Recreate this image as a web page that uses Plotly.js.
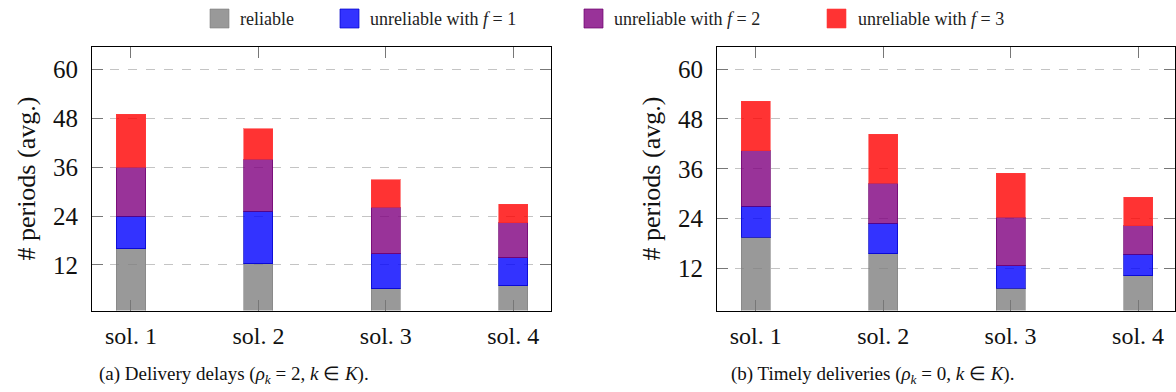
<!DOCTYPE html>
<html>
<head>
<meta charset="utf-8">
<script src="https://cdn.plot.ly/plotly-3.0.1.min.js"></script>
<style>
  html, body { margin: 0; padding: 0; background: #fff; }
  #chart { width: 1176px; height: 392px; }
</style>
</head>
<body>
<div id="chart"></div>
<script>
// ---- data ----
const solutions = ['sol. 1', 'sol. 2', 'sol. 3', 'sol. 4'];
const seriesNames = ['reliable', 'unreliable with <i>f</i> = 1', 'unreliable with <i>f</i> = 2', 'unreliable with <i>f</i> = 3'];
const yTicks = [12, 24, 36, 48, 60];

// (a) Delivery delays
const delaysReliable = [16.0, 12.3, 6.2, 6.9];
const delaysF1 = [8.0, 12.9, 8.6, 6.9];
const delaysF2 = [12.0, 12.7, 11.4, 8.6];
const delaysF3 = [13.0, 7.6, 6.7, 4.5];

// (b) Timely deliveries
const timelyReliable = [19.5, 15.6, 7.2, 10.3];
const timelyF1 = [7.5, 7.3, 5.5, 5.1];
const timelyF2 = [13.4, 9.6, 11.6, 6.9];
const timelyF3 = [11.9, 11.8, 10.6, 6.9];

const yTitle = '# periods (avg.)';
const captionA = '(a) Delivery delays (<i>ρ</i><sub><i>k</i></sub> = 2, <i>k</i> ∈ <i>K</i>).';
const captionB = '(b) Timely deliveries (<i>ρ</i><sub><i>k</i></sub> = 0, <i>k</i> ∈ <i>K</i>).';

// ---- styling ----
const fills = ['rgba(128,128,128,0.8)', 'rgba(0,0,255,0.8)', 'rgba(128,0,128,0.8)', 'rgba(255,0,0,0.8)'];
const edges = ['rgba(128,128,128,0.6)', 'rgba(0,0,200,0.7)', 'rgba(110,0,110,0.7)', 'rgba(255,60,60,0.6)'];
const FONT = 'Liberation Serif, Times New Roman, serif';
const W = 1176, H = 392;
const px = v => v / W;
const py = v => 1 - v / H;

const seriesA = [delaysReliable, delaysF1, delaysF2, delaysF3];
const seriesB = [timelyReliable, timelyF1, timelyF2, timelyF3];

const traces = [];
[[seriesA, 'x', 'y'], [seriesB, 'x2', 'y2']].forEach(([set, xa, ya]) => {
  set.forEach((vals, i) => {
    traces.push({
      type: 'bar',
      x: solutions,
      y: vals,
      xaxis: xa,
      yaxis: ya,
      name: seriesNames[i],
      width: 0.228,
      showlegend: false,
      marker: { color: fills[i], line: { color: edges[i], width: 1 } },
      hoverinfo: 'y+name'
    });
  });
});

function xAxis(domain, range) {
  return {
    domain: domain,
    type: 'category',
    range: range,
    showline: true, linecolor: '#000', linewidth: 1, mirror: 'allticks',
    ticks: 'inside', ticklen: 11, tickcolor: '#777', tickwidth: 1,
    showgrid: false, zeroline: false,
    tickfont: { family: FONT, size: 24, color: '#111' },
    ticklabelstandoff: 4,
    fixedrange: true
  };
}
function yAxis(domain, range, anchor) {
  return {
    domain: domain,
    anchor: anchor,
    range: range,
    tickmode: 'array', tickvals: yTicks, ticktext: yTicks.map(String),
    showline: true, linecolor: '#000', linewidth: 1, mirror: 'allticks',
    ticks: 'inside', ticklen: 11, tickcolor: '#777', tickwidth: 1,
    showgrid: true, gridcolor: '#c4c4c4', gridwidth: 1, griddash: 'dash',
    zeroline: false,
    tickfont: { family: FONT, size: 25, color: '#111' },
    ticklabelstandoff: 8,
    title: { text: yTitle, font: { family: FONT, size: 26, color: '#111' }, standoff: 9 },
    automargin: false,
    fixedrange: true
  };
}

const yDom = [py(310.5), py(46.7)];
const layout = {
  width: W, height: H,
  margin: { l: 0, r: 0, t: 0, b: 0, pad: 0 },
  paper_bgcolor: '#fff', plot_bgcolor: '#fff',
  barmode: 'stack',
  showlegend: false,
  xaxis: Object.assign(xAxis([px(92), px(551)], [-0.306, 3.296]), { anchor: 'y' }),
  yaxis: yAxis(yDom, [0.8, 65.6], 'x'),
  xaxis2: Object.assign(xAxis([px(717), px(1175)], [-0.304, 3.29]), { anchor: 'y2' }),
  yaxis2: yAxis(yDom, [1.9, 65.4], 'x2'),
  shapes: [],
  annotations: []
};

// legend (drawn as swatches + labels)
const swatchX = [210, 340, 584, 827];
const labelX = [238, 368, 612, 856];
seriesNames.forEach((n, i) => {
  layout.shapes.push({
    type: 'rect', xref: 'paper', yref: 'paper',
    x0: px(swatchX[i]), x1: px(swatchX[i] + 19), y0: py(28), y1: py(9),
    fillcolor: fills[i], line: { color: edges[i], width: 1 }
  });
  layout.annotations.push({
    xref: 'paper', yref: 'paper', x: px(labelX[i]), y: py(18.5),
    xanchor: 'left', yanchor: 'middle', showarrow: false,
    text: n, font: { family: FONT, size: 18, color: '#222' }
  });
});

// captions
[[captionA, 234], [captionB, 872]].forEach(([t, cx]) => {
  layout.annotations.push({
    xref: 'paper', yref: 'paper', x: px(cx), y: py(375),
    xanchor: 'center', yanchor: 'middle', showarrow: false,
    text: t, font: { family: FONT, size: 19, color: '#111' }
  });
});

Plotly.newPlot('chart', traces, layout, { displayModeBar: false, staticPlot: true });
</script>
</body>
</html>
